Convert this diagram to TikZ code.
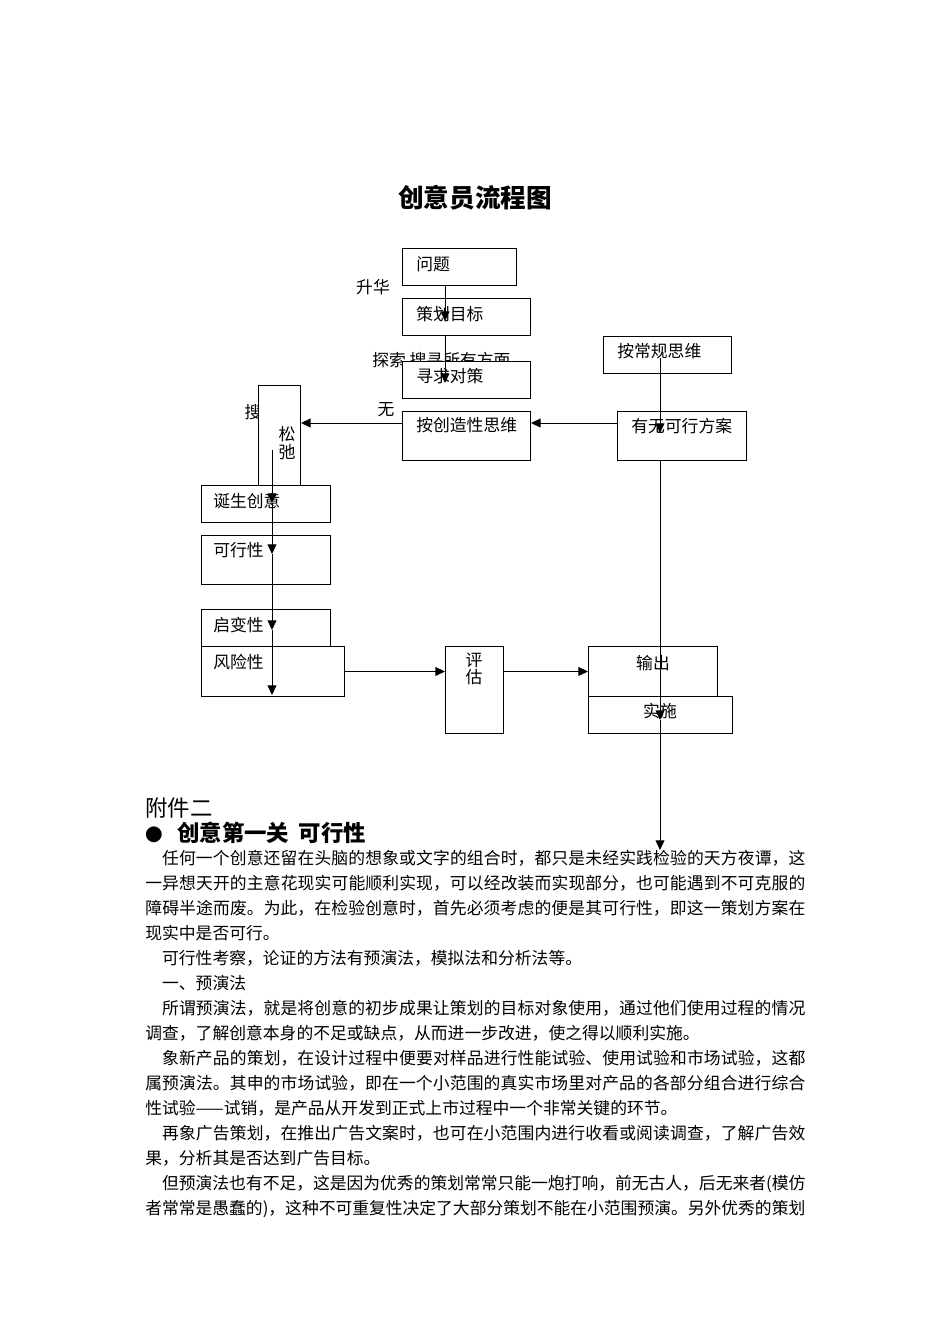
\documentclass[tikz,border=0pt]{standalone}
\usepackage{fontspec}
\setmainfont{Noto Sans CJK SC}
\usetikzlibrary{arrows.meta}
\XeTeXlinebreaklocale "zh"
\XeTeXlinebreakskip=0pt plus 1pt minus 0.1pt

\tikzset{
    box/.style={draw, fill=white, line width=0.6pt, anchor=north west, inner sep=0pt},
    boxsize/.style 2 args={minimum width=#1*0.625pt, minimum height=#2*0.625pt},
    boxtext/.style={font=\fontsize{10.5pt}{12pt}\selectfont, inner sep=0pt},
    arr/.style={-{Triangle[length=6pt, width=5.5pt]}, line width=0.6pt},
}

\begin{document}
\begin{tikzpicture}[x=0.625pt, y=-0.625pt]
        \useasboundingbox (0,0) rectangle (950,1344);

        \node[font=\fontsize{16pt}{18pt}\selectfont\bfseries] (title) at (475,198) {创意员流程图};

        \node[boxtext] (shenghua) at (373,287) {升华};
        \node[boxtext, anchor=west] (tansuo) at (372,360) {探索 搜寻所有方面};
        \node[boxtext] (wu) at (386,410) {无};
        \node[boxtext] (sou) at (253,412) {搜};

        \node[box, boxsize={114}{37}] (wenti) at (402,248) {};
        \node[box, boxsize={128}{37}] (cehua) at (402,298) {};
        \node[box, boxsize={128}{37}] (xunqiu) at (402,361) {};
        \node[box, boxsize={128}{49}] (chuangzao) at (402,411) {};
        \node[box, boxsize={128}{37}] (changgui) at (603,336) {};
        \node[box, boxsize={129}{49}] (youwu) at (617,411) {};
        \node[box, boxsize={42}{100}] (songchi) at (258,385) {};
        \node[box, boxsize={129}{37}] (dansheng) at (201,485) {};
        \node[box, boxsize={129}{49}] (kexing) at (201,535) {};
        \node[box, boxsize={129}{37}] (qibian) at (201,609) {};
        \node[box, boxsize={143}{50}] (fengxian) at (201,646) {};
        \node[box, boxsize={58}{87}] (pinggu) at (445,646) {};
        \node[box, boxsize={129}{50}] (shuchu) at (588,646) {};
        \node[box, boxsize={144}{37}] (shishi) at (588,696) {};

        \node[boxtext, anchor=west] at (416,264) {问题};
        \node[boxtext, anchor=west] at (416,314) {策划目标};
        \node[boxtext, anchor=west] at (416,376) {寻求对策};
        \node[boxtext, anchor=west] at (416,425) {按创造性思维};
        \node[boxtext, anchor=west] at (617,351) {按常规思维};
        \node[boxtext, anchor=west] at (631,426) {有无可行方案};
        \node[boxtext, align=center, font=\fontsize{10.5pt}{11.25pt}\selectfont] at (287,443) {松\\弛};
        \node[boxtext, anchor=west] at (213,501) {诞生创意};
        \node[boxtext, anchor=west] at (213,550) {可行性};
        \node[boxtext, anchor=west] at (213,625) {启变性};
        \node[boxtext, anchor=west] at (213,662) {风险性};
        \node[boxtext, align=center, font=\fontsize{10.5pt}{10.6pt}\selectfont] at (474,669) {评\\估};
        \node[boxtext] at (653,663) {输出};
        \node[boxtext] at (660,711) {实施};

        \coordinate (c1) at (445,321);
        \coordinate (c2) at (445,383);
        \draw[arr] (wenti.south -| c1) -- (c1);
        \draw[arr] (cehua.south -| c2) -- (c2);

        \coordinate (r0) at (660,358);
        \coordinate (r1) at (660,433);
        \coordinate (r2) at (660,720);
        \coordinate (r3) at (660,850);
        \draw[arr] (r0) -- (r1);
        \draw[arr] (youwu.south -| r2) -- (r2);
        \draw[arr] (r2) -- (r3);

        \coordinate (row) at (0,423);
        \draw[arr] (youwu.west |- row) -- (chuangzao.east |- row);
        \draw[arr] (chuangzao.west |- row) -- (songchi.east |- row);

        \coordinate (l0) at (272,450);
        \coordinate (l1) at (272,503);
        \coordinate (l2) at (272,554);
        \coordinate (l3) at (272,630);
        \coordinate (l4) at (272,695);
        \draw[arr] (l0) -- (l1);
        \draw[arr] (l1) -- (l2);
        \draw[arr] (l2) -- (l3);
        \draw[arr] (l3) -- (l4);

        \draw[arr] (fengxian.east) -- (fengxian.east -| pinggu.west);
        \draw[arr] (pinggu.east |- shuchu.west) -- (shuchu.west);

        \node[anchor=west, inner sep=0pt, font=\fontsize{14pt}{16pt}\selectfont] (fujian) at (145,808) {附件二};
        \node[anchor=west, inner sep=0pt, font=\fontsize{14pt}{16pt}\selectfont\bfseries] (guan) at (145,833) {{\fontsize{11pt}{12pt}\selectfont ●}\hspace{9pt}创意第一关\hspace{6pt}可行性};

        \node[anchor=base west, inner sep=0pt, text width=412.5pt, align=justify, font=\fontsize{10.5pt}{15.625pt}\selectfont] (body) at (145,864) {\parskip=0pt%
\hspace*{1em}任何一个创意还留在头脑的想象或文字的组合时，都只是未经实践检验的天方夜谭，这\linebreak%
一异想天开的主意花现实可能顺利实现，可以经改装而实现部分，也可能遇到不可克服的\linebreak%
障碍半途而废。为此，在检验创意时，首先必须考虑的便是其可行性，即这一策划方案在\linebreak%
现实中是否可行。\par%
\hspace*{1em}可行性考察，论证的方法有预演法，模拟法和分析法等。\par%
\hspace*{1em}一、预演法\par%
\hspace*{1em}所谓预演法，就是将创意的初步成果让策划的目标对象使用，通过他们使用过程的情况\linebreak%
调查，了解创意本身的不足或缺点，从而进一步改进，使之得以顺利实施。\par%
\hspace*{1em}象新产品的策划，在设计过程中便要对样品进行性能试验、使用试验和市场试验，这都\linebreak%
属预演法。其申的市场试验，即在一个小范围的真实市场里对产品的各部分组合进行综合\linebreak%
性试验——试销，是产品从开发到正式上市过程中一个非常关键的环节。\par%
\hspace*{1em}再象广告策划，在推出广告文案时，也可在小范围内进行收看或阅读调查，了解广告效\linebreak%
果，分析其是否达到广告目标。\par%
\parfillskip=0pt%
\hspace*{1em}但预演法也有不足，这是因为优秀的策划常常只能一炮打响，前无古人，后无来者(模仿\linebreak%
者常常是愚蠢的)，这种不可重复性决定了大部分策划不能在小范围预演。另外优秀的策划};
\end{tikzpicture}
\end{document}
